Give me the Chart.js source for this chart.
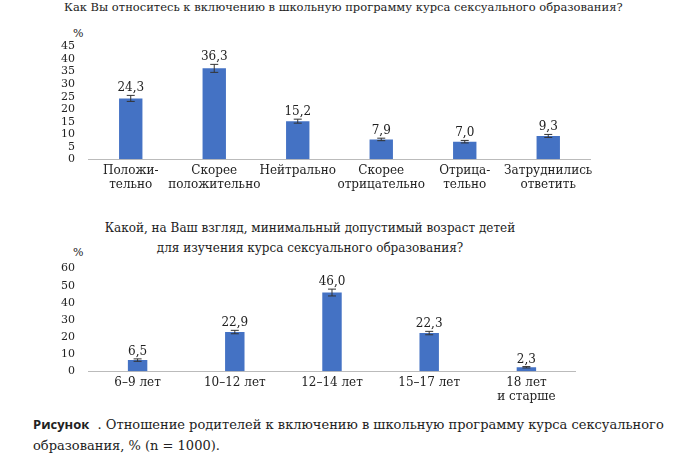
<!DOCTYPE html>
<html><head><meta charset="utf-8">
<script src="https://cdn.jsdelivr.net/npm/chart.js@4"></script>
<style>
body{margin:0;background:#fff;width:683px;height:462px;position:relative;font-family:"DejaVu Serif",serif;color:#222}
.t{position:absolute;font-size:12px;white-space:nowrap}
canvas{position:absolute}
</style></head><body>
<div class="t" style="left:64px;top:0px;font-size:11.5px">Как Вы относитесь к включению в школьную программу курса сексуального образования?</div>
<div class="t" style="left:73px;top:27px;font-size:11px">%</div>
<div class="t" style="left:0;width:620px;text-align:center;top:218px;line-height:20px">Какой, на Ваш взгляд, минимальный допустимый возраст детей<br>для изучения курса сексуального образования?</div>
<div class="t" style="left:73px;top:246px;font-size:11px">%</div>
<div class="t" style="left:33px;top:414px;font-size:13px;line-height:21px;white-space:normal;width:640px"><b style="font-family:'Open Sans',sans-serif">Рисунок</b>&nbsp;&nbsp;. Отношение родителей к включению в школьную программу курса сексуального образования, % (n = 1000).</div>
<canvas id="c1" style="left:55px;top:34px" width="545" height="162"></canvas>
<canvas id="c2" style="left:55px;top:256px" width="530" height="152"></canvas>
<script>
const cats1=[["Положи-","тельно"],["Скорее","положительно"],["Нейтрально"],["Скорее","отрицательно"],["Отрица-","тельно"],["Затруднились","ответить"]];
const vals1=[24.3,36.3,15.2,7.9,7.0,9.3];
const err1=[1.2,1.6,0.8,0.5,0.5,0.6];
const cats2=["6–9 лет","10–12 лет","12–14 лет","15–17 лет",["18 лет","и старше"]];
const vals2=[6.5,22.9,46.0,22.3,2.3];
const err2=[0.7,1.0,2.0,1.0,0.4];
const F="'DejaVu Serif', serif";
const deco={id:'deco',afterDatasetsDraw(ch){
  const c=ch.ctx,m=ch.getDatasetMeta(0),ys=ch.scales.y,e=ch.config.options.errs;
  const d=ch.data.datasets[0].data;
  c.save();c.strokeStyle='#333';c.lineWidth=1;c.fillStyle='#222';c.font='12px '+F;c.textAlign='center';
  m.data.forEach((b,i)=>{const x=b.x,hi=ys.getPixelForValue(d[i]+e[i]),lo=ys.getPixelForValue(d[i]-e[i]);
    c.beginPath();c.moveTo(x,hi);c.lineTo(x,lo);c.moveTo(x-4,hi);c.lineTo(x+4,hi);c.moveTo(x-4,lo);c.lineTo(x+4,lo);c.stroke();
    c.fillText(d[i].toFixed(1).replace('.',','),x,hi-4);});
  c.restore();}};
function mk(id,labels,data,errs,max,step,bp){
 new Chart(document.getElementById(id),{type:'bar',data:{labels,datasets:[{data,backgroundColor:'#4472C4',barPercentage:bp,categoryPercentage:1}]},
 options:{errs,responsive:false,animation:false,plugins:{legend:{display:false},tooltip:{enabled:false}},
  layout:{padding:{top:6,right:10}},
  scales:{x:{grid:{display:false,drawTicks:false},border:{color:'#bbb'},ticks:{color:'#222',font:{family:F,size:12},maxRotation:0,autoSkip:false,padding:4}},
   y:{min:0,max,ticks:{stepSize:step,autoSkip:false,color:'#222',font:{family:F,size:11},padding:6},grid:{display:false},border:{display:false}}}},
 plugins:[deco]});}
mk('c1',cats1,vals1,err1,45,5,0.28);
mk('c2',cats2,vals2,err2,60,10,0.2);
</script></body></html>
